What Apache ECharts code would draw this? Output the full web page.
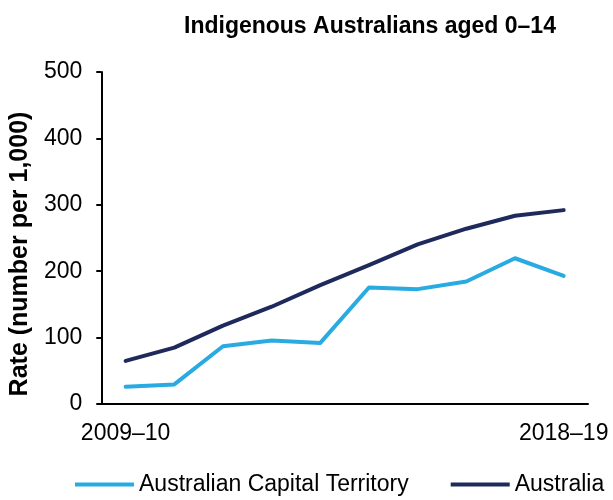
<!DOCTYPE html>
<html>
<head>
<meta charset="utf-8">
<script src="https://cdn.jsdelivr.net/npm/echarts@6/dist/echarts.min.js"></script>
<style>
    html, body { margin: 0; padding: 0; background: #fff; }
    #chart { width: 613px; height: 500px; }
</style>
</head>
<body>
<div id="chart"></div>
<script>
// financial years along the x axis
const years = ["2009–10", "2010–11", "2011–12", "2012–13", "2013–14", "2014–15", "2015–16", "2016–17", "2017–18", "2018–19"];
// rate per 1,000
const actRates = [26, 29.5, 87, 95.5, 92, 175.5, 173, 184.5, 219.5, 193];
const australiaRates = [65, 85, 118, 146.5, 179, 209, 240.5, 264, 283.5, 292];
const yTicks = [0, 100, 200, 300, 400, 500];

const FONT = "Liberation Sans, Arial, sans-serif";
const lightBlue = "#29abe2";
const navy = "#1f2a5c";

const chart = echarts.init(document.getElementById("chart"), null, { renderer: "canvas" });

const option = {
    animation: false,
    title: {
        text: "Indigenous Australians aged 0–14",
        left: 179,
        top: 10,
        textStyle: { fontFamily: FONT, fontSize: 23, fontWeight: "bold", color: "#000" }
    },
    legend: {
        left: 70,
        top: 468,
        icon: "rect",
        itemWidth: 59,
        itemHeight: 4,
        itemGap: 42,
        textStyle: { fontFamily: FONT, fontSize: 23, color: "#000" },
        data: ["Australian Capital Territory", "Australia"]
    },
    grid: { left: 101, right: 25, top: 72, bottom: 96 },
    xAxis: {
        type: "category",
        data: years,
        boundaryGap: true,
        axisLine: { lineStyle: { color: "#000", width: 2 } },
        axisTick: { show: false },
        axisLabel: {
            fontFamily: FONT,
            fontSize: 23,
            color: "#000",
            margin: 18,
            interval: (i) => i === 0 || i === years.length - 1
        }
    },
    yAxis: {
        type: "value",
        min: yTicks[0],
        max: yTicks[yTicks.length - 1],
        interval: 100,
        name: "Rate (number per 1,000)",
        nameLocation: "middle",
        nameGap: 66,
        nameTextStyle: { fontFamily: FONT, fontSize: 25, fontWeight: "bold", color: "#000", padding: [0, 32, 0, 0] },
        axisLine: { show: true, lineStyle: { color: "#000", width: 2 } },
        axisTick: { show: true, length: 5, lineStyle: { color: "#000", width: 2 } },
        axisLabel: { fontFamily: FONT, fontSize: 23, color: "#000", margin: 19 },
        splitLine: { show: false }
    },
    series: [
        {
            name: "Australian Capital Territory",
            type: "line",
            data: actRates,
            symbol: "none",
            color: lightBlue,
            lineStyle: { width: 4, color: lightBlue, cap: "round", join: "round" }
        },
        {
            name: "Australia",
            type: "line",
            data: australiaRates,
            symbol: "none",
            color: navy,
            lineStyle: { width: 4, color: navy, cap: "round", join: "round" }
        }
    ]
};

chart.setOption(option);
</script>
</body>
</html>
